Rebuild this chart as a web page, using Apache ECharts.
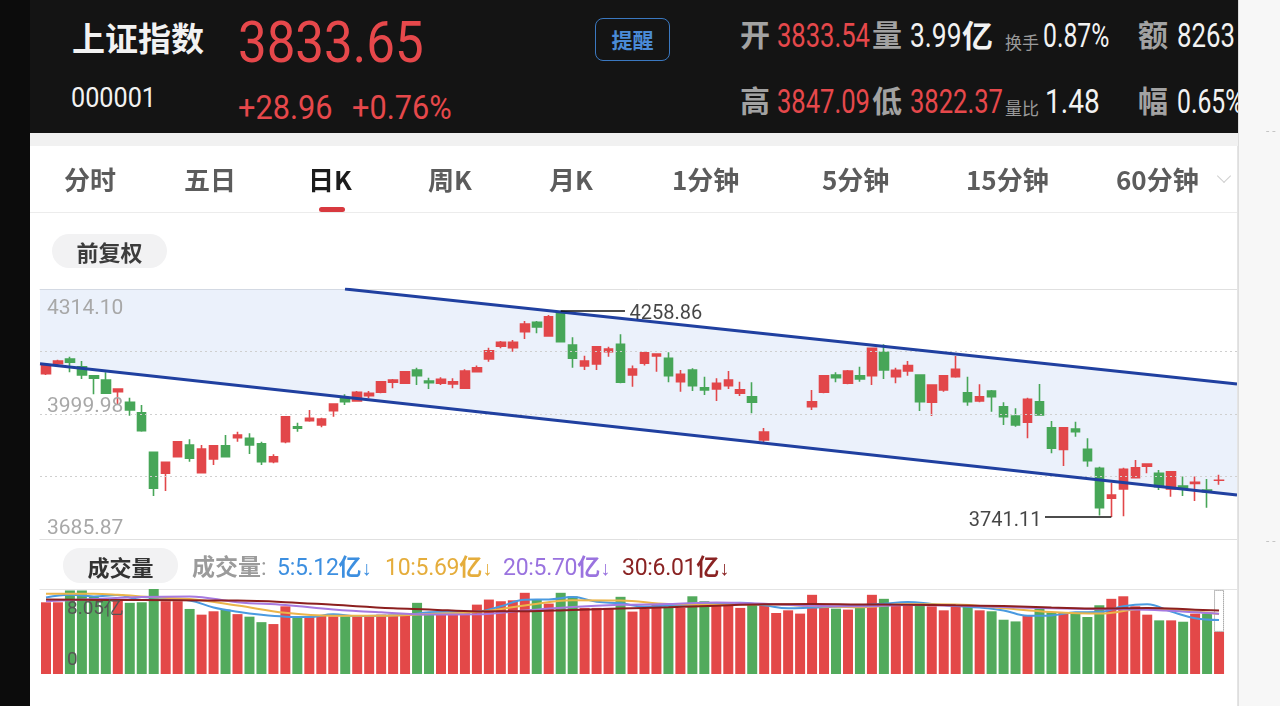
<!DOCTYPE html>
<html lang="zh-CN">
<head>
<meta charset="utf-8">
<title>上证指数 日K</title>
<script src="https://cdn.jsdelivr.net/npm/echarts@6.0.0/dist/echarts.min.js"></script>
<style>
  html, body { margin:0; padding:0; width:1280px; height:706px; overflow:hidden; background:#0c0c0c; }
  .a { position:absolute; white-space:nowrap; line-height:1; z-index:3; }
  .cjk { font-family:"Noto Sans CJK SC","Noto Sans",sans-serif; }
  .din { font-family:Roboto,"Noto Sans",sans-serif; transform-origin:0 50%; }
  #hdr { position:absolute; left:30px; top:0; width:1208px; height:133px; background:#141414; overflow:hidden; z-index:1; }
  #hdr .a { z-index:1; }
  #panel { position:absolute; left:30px; top:133px; width:1208px; height:573px; background:#fff; z-index:0; }
  #rstrip { position:absolute; left:1238px; top:0; width:42px; height:706px; background:#f7f7f7; border-left:1px solid #dedede; z-index:0; }
  .lbl { color:#a2a2a2; font-weight:700; font-size:30px; }
  .w { color:#f2f2f2; }
  .r { color:#e6484b; }
  .tab { font-size:26px; color:#5c5c5c; font-weight:600; top:166px; }
  .pill { position:absolute; background:#f2f2f3; border-radius:17px; display:flex; align-items:center; justify-content:center; z-index:3; }
  .leg { font-size:23px; top:554px; display:flex; align-items:baseline; }
  .leg .n { font-family:Roboto,"Noto Sans",sans-serif; font-size:23px; letter-spacing:-0.3px; }
  .leg .c { font-family:"Noto Sans CJK SC",sans-serif; font-size:23px; font-weight:700; }
  #chart { position:absolute; left:0; top:0; width:1280px; height:706px; z-index:2; }
</style>
</head>
<body>
<div id="panel"></div>
<div class="a" style="left:30px;top:133px;width:1208px;height:13px;background:#f1f1f1;"></div>
<div class="a" style="left:30px;top:212px;width:1208px;height:1px;background:#ececec;"></div>
<div class="a" style="left:1237px;top:146px;width:1px;height:560px;background:#e4e4e4;"></div>
<div id="rstrip"></div>
<div class="a" style="left:1266px;top:125px;font-size:12px;color:#c4c4c4;font-family:Roboto;">- -</div>
<div class="a" style="left:1266px;top:535px;font-size:12px;color:#c4c4c4;font-family:Roboto;">- -</div>

<div id="hdr">
  <div class="a cjk w" style="left:42px;top:21px;font-size:33px;font-weight:700;">上证指数</div>
  <div class="a din r" style="left:208px;top:12.5px;font-size:58px;transform:scaleX(0.88);">3833.65</div>
  <div class="a din w" style="left:41px;top:84px;font-size:28px;transform:scaleX(0.9);">000001</div>
  <div class="a din r" style="left:208px;top:90.5px;font-size:33px;transform:scaleX(0.93);">+28.96</div>
  <div class="a din r" style="left:322px;top:90.5px;font-size:33px;transform:scaleX(0.93);">+0.76%</div>
  <div class="a cjk" style="left:565px;top:18px;width:75px;height:43px;box-sizing:border-box;border:1.5px solid #3b78c0;border-radius:8px;display:flex;align-items:center;justify-content:center;font-size:21px;font-weight:700;color:#4a8ad6;">提醒</div>

  <div class="a cjk lbl" style="left:710px;top:18px;">开</div>
  <div class="a din r" style="left:747px;top:18.5px;font-size:33px;transform:scaleX(0.775);">3833.54</div>
  <div class="a cjk lbl" style="left:842px;top:18px;">量</div>
  <div class="a din w" style="left:880px;top:18.5px;font-size:33px;transform:scaleX(0.8);">3.99</div>
  <div class="a cjk w" style="left:932px;top:18px;font-size:31px;font-weight:700;">亿</div>
  <div class="a cjk" style="left:975px;top:33px;font-size:17px;color:#9a9a9a;">换手</div>
  <div class="a din w" style="left:1013px;top:18.5px;font-size:33px;transform:scaleX(0.75);">0.87%</div>
  <div class="a cjk lbl" style="left:1108px;top:18px;">额</div>
  <div class="a din w" style="left:1147px;top:18.5px;font-size:33px;transform:scaleX(0.78);">8263</div>

  <div class="a cjk lbl" style="left:710px;top:84px;">高</div>
  <div class="a din r" style="left:747px;top:84.5px;font-size:33px;transform:scaleX(0.775);">3847.09</div>
  <div class="a cjk lbl" style="left:842px;top:84px;">低</div>
  <div class="a din r" style="left:880px;top:84.5px;font-size:33px;transform:scaleX(0.775);">3822.37</div>
  <div class="a cjk" style="left:975px;top:99px;font-size:17px;color:#9a9a9a;">量比</div>
  <div class="a din w" style="left:1015px;top:84.5px;font-size:33px;transform:scaleX(0.85);">1.48</div>
  <div class="a cjk lbl" style="left:1108px;top:84px;">幅</div>
  <div class="a din w" style="left:1147px;top:84.5px;font-size:33px;transform:scaleX(0.75);">0.65%</div>
</div>

<div class="a cjk tab" style="left:64px;">分时</div>
<div class="a cjk tab" style="left:184px;">五日</div>
<div class="a cjk tab" style="left:308px;color:#1c1c1c;font-weight:700;">日K</div>
<div class="a cjk tab" style="left:428px;">周K</div>
<div class="a cjk tab" style="left:549px;">月K</div>
<div class="a cjk tab" style="left:672px;">1分钟</div>
<div class="a cjk tab" style="left:822px;">5分钟</div>
<div class="a cjk tab" style="left:966px;">15分钟</div>
<div class="a cjk tab" style="left:1116px;">60分钟</div>
<div class="a" style="left:1219px;top:171px;width:9px;height:9px;border-right:1.5px solid #cfcfcf;border-bottom:1.5px solid #cfcfcf;transform:rotate(45deg);"></div>
<div class="a" style="left:319px;top:207px;width:26px;height:5px;border-radius:3px;background:#d8393f;"></div>

<div class="pill cjk" style="left:52px;top:234px;width:115px;height:34px;font-size:22px;color:#3c3c3c;font-weight:600;">前复权</div>
<div class="pill cjk" style="left:63px;top:548px;width:115px;height:35px;font-size:22px;color:#333;font-weight:700;">成交量</div>

<div class="a cjk leg" style="left:192px;color:#9b9b9b;"><span class="c" style="font-weight:600;">成交量</span><span class="n">:</span></div>
<div class="a leg" id="leg5" style="left:277px;color:#3d8fe0;"></div>
<div class="a leg" id="leg10" style="left:385px;color:#e5ad3c;"></div>
<div class="a leg" id="leg20" style="left:503px;color:#9a73df;"></div>
<div class="a leg" id="leg30" style="left:622px;color:#8a2323;"></div>

<div id="chart"></div>

<script>
// ---------------- data ----------------
const slotCount = 100;              // horizontal day slots shown by the app (99 days + 1 blank)
const priceMin = 3685.87;
const priceMax = 4314.10;
const priceLabels = ['3685.87', '3999.98', '4314.10'];
const volMax = 8.05;
const volLabels = ['0', '8.05亿'];

// daily K: [open, close, low, high]; null = day hidden in the screenshot
const kline = [
 [4101.3,4123.1,4098.0,4125.6],[4126.4,4133.2,4118.8,4136.4],[4138.2,4129.9,4104.8,4144.0],[4118.8,4098.0,4087.9,4133.2],[4096.2,4089.7,4049.5,4097.0],
 [4085.4,4052.0,4051.5,4104.8],[4056.0,4062.8,4024.4,4064.6],[4029.4,4010.0,3995.7,4040.9],[4003.2,3958.0,3955.5,4022.6],[3903.7,3813.3,3793.9,3905.2],
 [3851.0,3878.6,3806.5,3879.5],[3892.7,3930.4,3890.8,3932.1],[3922.1,3888.7,3880.1,3936.4],[3852.5,3912.0,3852.0,3922.1],[3886.9,3920.3,3871.8,3922.1],
 [3920.3,3892.7,3891.2,3947.2],[3940.4,3947.2,3930.4,3955.5],[3938.9,3922.1,3899.5,3951.5],[3925.3,3880.1,3871.8,3930.4],[3880.1,3892.7,3876.1,3898.7],
 [3930.4,3993.2,3926.3,3995.1],[3968.1,3964.0,3955.5,3978.1],[3983.1,3989.2,3980.6,4010.0],[3972.3,3987.4,3966.6,3990.7],[4008.3,4025.1,3993.2,4025.8],
 [4039.4,4030.9,4022.6,4049.5],[4032.6,4054.5,4030.9,4057.8],[4046.0,4052.0,4039.4,4057.8],[4054.5,4081.1,4052.0,4082.9],[4079.6,4085.4,4064.6,4087.9],
 [4077.1,4106.3,4075.4,4108.0],[4110.6,4096.2,4072.9,4116.3],[4082.9,4078.6,4062.8,4091.2],[4077.1,4087.2,4072.9,4092.2],[4075.4,4081.1,4064.6,4089.7],
 [4064.6,4108.0,4062.8,4112.3],[4106.3,4116.3,4104.8,4121.6],[4138.2,4159.1,4131.4,4166.6],[4170.3,4180.4,4165.3,4183.4],[4166.6,4180.4,4156.5,4185.9],
 [4206.8,4226.1,4188.4,4233.7],[4230.4,4218.6,4202.8,4233.7],[4196.0,4244.4,4194.2,4248.8],[4257.1,4181.5,4180.0,4258.86],[4173.4,4140.0,4116.3,4192.7],
 [4120.6,4133.2,4110.6,4146.5],[4125.6,4169.1,4110.6,4170.8],[4156.5,4163.3,4144.0,4169.1],[4175.1,4079.6,4077.1,4200.3],[4098.0,4113.1,4068.6,4121.6],
 [4127.4,4154.0,4121.6,4156.5],[4145.6,4150.7,4106.3,4152.5],[4140.0,4096.2,4079.6,4155.0],[4081.1,4099.7,4056.0,4110.6],[4110.6,4071.1,4057.8,4114.8],
 [4066.1,4060.3,4047.7,4093.7],[4062.8,4077.1,4032.6,4089.7],[4071.1,4085.4,4062.8,4108.0],[4052.0,4061.0,4045.2,4081.1],[4043.4,4029.4,4001.7,4079.6],
 [3934.6,3954.7,3929.6,3964.8],null,null,null,[4018.3,4030.9,4010.0,4060.3],
 [4054.5,4096.2,4052.0,4098.0],[4098.0,4091.2,4079.6,4104.8],[4077.1,4108.0,4074.6,4110.6],[4096.2,4087.9,4081.1,4118.8],[4096.2,4165.1,4072.9,4166.6],
 [4155.0,4110.6,4087.9,4175.1],[4093.7,4109.8,4077.1,4116.3],[4108.0,4121.6,4096.2,4133.2],[4098.0,4030.9,4007.6,4099.7],[4029.4,4072.9,3995.1,4074.6],
 [4060.3,4095.7,4056.0,4098.0],[4093.7,4112.3,4091.2,4145.7],[4053.5,4030.9,4020.8,4093.7],[4032.6,4043.4,4029.4,4074.6],[4057.8,4043.4,4005.8,4060.3],
 [4018.3,3993.2,3972.3,4029.4],[3995.1,3972.3,3968.1,4014.3],[3979.1,4036.9,3938.9,4040.9],[4030.9,3997.7,3995.7,4075.4],[3965.5,3913.8,3901.2,3982.4],
 [3911.2,3965.5,3869.3,3966.0],[3962.3,3955.5,3942.9,3980.6],[3911.2,3882.6,3867.6,3938.9],[3863.5,3764.5,3745.0,3867.6],[3788.1,3796.5,3741.11,3827.4],
 [3811.5,3861.0,3743.0,3865.0],[3839.9,3865.0,3838.4,3884.4],[3868.6,3874.5,3851.0,3876.1],[3851.0,3817.3,3809.0,3859.3],[3811.5,3855.0,3792.1,3856.8],
 [3819.0,3814.8,3794.0,3842.7],[3825.6,3828.3,3781.3,3842.7],[3809.0,3804.69,3764.5,3836.6],[3833.54,3833.65,3822.37,3847.09]
];

// volume, 亿
const volumes = [
 6.79,6.79,7.91,7.91,7.34,7.19,7.05,6.74,6.79,8.05,
 6.89,6.89,6.16,5.62,5.94,6.10,5.67,5.43,4.91,4.73,
 6.41,5.46,5.46,5.53,5.46,5.46,5.53,5.53,5.62,5.62,
 5.62,6.74,5.72,5.72,5.72,5.84,6.57,7.05,6.89,6.98,
 7.69,7.05,6.67,7.69,7.36,6.26,6.26,6.26,7.31,5.91,
 6.19,6.57,6.41,6.26,7.36,6.89,6.48,6.74,6.26,6.57,
 6.48,5.78,6.03,5.72,7.50,6.41,6.19,6.10,6.41,7.50,
 7.12,6.48,6.57,6.57,6.41,6.03,6.57,6.41,6.03,5.94,
 5.14,4.98,5.53,6.26,5.84,5.84,5.72,5.40,6.51,7.12,
 7.36,6.41,5.62,5.08,5.08,4.95,5.72,5.72,3.99
];
// u = up day (red), d = down day (green)
const dayUp = 'uudddduddd' + 'uuduududdu' + 'uduuuduuuu' + 'udduuuuuuu' + 'ududduuudu' +
              'uududduuud' + 'uuuuuududu' + 'duuduuudud' + 'dduddudddu' + 'uuudududu';
const projectedVolume = 7.96;   // dotted box on today's bar

// volume moving averages: [dayIndex, value]
const ma5Pts = [[0,7.24],[2,7.5],[4,7.35],[6,7.48],[8,7.02],[10,7.10],[12,6.96],[14,6.30],[16,5.90],[18,5.61],[20,5.43],[22,5.39],[24,5.66],[26,5.49],[28,5.52],[30,5.58],[32,5.86],[34,5.90],[36,5.91],[38,6.41],[40,7.04],[42,7.06],[44,7.29],[46,6.85],[48,6.69],[50,6.39],[52,6.48],[54,6.56],[56,6.68],[58,6.75],[60,6.51],[62,6.22],[64,6.30],[66,6.37],[68,6.52],[70,6.66],[72,6.82],[74,6.63],[76,6.43],[78,6.29],[80,6.02],[82,5.52],[84,5.55],[86,5.84],[88,5.86],[90,6.42],[92,6.60],[94,5.91],[96,5.29],[98,5.12]];
const ma10Pts = [[0,7.6],[4,7.6],[6,7.5],[9,7.26],[12,7.10],[16,6.49],[20,5.79],[24,5.52],[28,5.52],[32,5.68],[36,5.87],[40,6.49],[44,6.98],[48,6.95],[52,6.62],[56,6.56],[60,6.60],[64,6.45],[68,6.32],[72,6.60],[76,6.58],[80,6.22],[84,5.87],[88,5.72],[92,6.21],[96,5.93],[98,5.69]];
const ma20Pts = [[0,6.9],[4,7.1],[8,7.3],[12,7.35],[16,6.8],[20,6.53],[24,6.12],[28,5.84],[32,5.63],[36,5.65],[40,6.01],[44,6.35],[48,6.55],[52,6.62],[56,6.78],[60,6.65],[64,6.46],[68,6.41],[72,6.54],[76,6.47],[80,6.35],[84,6.22],[88,6.14],[92,6.08],[96,5.85],[98,5.70]];
const ma30Pts = [[0,7.05],[8,7.0],[16,6.95],[20,6.8],[24,6.55],[29,6.23],[32,6.12],[36,5.93],[40,5.94],[44,6.07],[48,6.21],[52,6.31],[56,6.47],[60,6.60],[64,6.63],[68,6.59],[72,6.57],[76,6.50],[80,6.43],[84,6.30],[88,6.20],[92,6.26],[96,6.09],[98,6.01]];

// hand-drawn channel lines: [slot position, price]
const upperTrend = [[24.98, 4314.10], [99.5, 4075.4]];
const lowerTrend = [[-0.5, 4126.1], [99.5, 3796.4]];

// ---------------- styles ----------------
const RED = '#e2474a', GREEN = '#47a658';
const VRED = '#e34848', VGREEN = '#52aa5c';
const maColors = ['#4a9ae0', '#ebb54a', '#a679e0', '#8c1f1f'];
const leaderLenMax = 5.37, leaderLenMin = -5.54;

// ---------------- build ----------------
const slots = Array.from({length: slotCount}, (_, i) => String(i + 1));
const klineData = kline.map(r => r ? r : ['-', '-', '-', '-']);
let maxI = -1, maxV = -Infinity, minI = -1, minV = Infinity;
kline.forEach((r, i) => {
  if (!r) return;
  if (r[3] > maxV) { maxV = r[3]; maxI = i; }
  if (r[2] < minV) { minV = r[2]; minI = i; }
});
const last = volumes.length - 1;
const volData = volumes.map((v, i) => ({ value: v, itemStyle: { color: dayUp[i] === 'u' ? VRED : VGREEN } }));
const projData = volumes.map((v, i) => i === last ? +(projectedVolume - v).toFixed(2) : '-');
const bandPoly = [lowerTrend[0], [lowerTrend[0][0], priceMax], upperTrend[0], upperTrend[1], lowerTrend[1]];
const q = (priceMax - priceMin) / 4;

const lastOf = a => a[a.length - 1][1].toFixed(2);
function legend(id, period, pts) {
  document.getElementById(id).innerHTML =
    '<span class="n">' + period + ':' + lastOf(pts) + '</span><span class="c">亿</span><span class="n" style="font-size:20px;">↓</span>';
}
legend('leg5', 5, ma5Pts); legend('leg10', 10, ma10Pts); legend('leg20', 20, ma20Pts); legend('leg30', 30, ma30Pts);

const labelFont = { fontFamily: 'Roboto', fontSize: 21, color: '#a8a8a8' };
const noLine = { color: 'rgba(0,0,0,0)', width: 0 };
const chart = echarts.init(document.getElementById('chart'), null, { renderer: 'canvas' });
const hiddenAxis = { axisTick: { show: false }, axisLabel: { show: false }, splitLine: { show: false } };
chart.setOption({
  animation: false,
  grid: [
    { left: 40, top: 289, width: 1197, height: 250 },
    { left: 40, top: 589, width: 1197, height: 85 }
  ],
  xAxis: [
    Object.assign({ type: 'category', gridIndex: 0, data: slots, position: 'bottom',
      axisLine: { show: true, onZero: false, lineStyle: { color: '#e0e0e0', width: 1 } } }, hiddenAxis),
    Object.assign({ type: 'value', gridIndex: 0, min: -0.5, max: slotCount - 0.5, position: 'top',
      axisLine: { show: true, onZero: false, lineStyle: { color: '#e0e0e0', width: 1 } } }, hiddenAxis),
    Object.assign({ type: 'category', gridIndex: 1, data: slots, position: 'top',
      axisLine: { show: true, onZero: false, lineStyle: { color: '#e4e4e4', width: 1 } } }, hiddenAxis)
  ],
  yAxis: [
    Object.assign({ type: 'value', gridIndex: 0, min: priceMin, max: priceMax, axisLine: { show: false } }, hiddenAxis),
    { type: 'value', gridIndex: 1, min: 0, max: volMax, interval: volMax, z: 10,
      axisLine: { show: false }, axisTick: { show: false }, splitLine: { show: false },
      axisLabel: { inside: true, margin: 27, color: '#555', fontFamily: 'Roboto', fontSize: 19,
        formatter: (v, i) => i === 0 ? '{b|' + volLabels[0] + '}' : '{t|' + volLabels[1] + '}',
        rich: {
          t: { padding: [41, 0, 0, 0], color: '#555', fontFamily: 'Roboto', fontSize: 19 },
          b: { padding: [0, 0, 28, 0], color: '#555', fontFamily: 'Roboto', fontSize: 19 }
        } } }
  ],
  series: [
    { name: 'priceGrid', type: 'line', xAxisIndex: 1, yAxisIndex: 0, z: 1, silent: true,
      data: [[-1, priceMin]], symbol: 'none', lineStyle: { opacity: 0 },
      markLine: { silent: true, symbol: ['none', 'none'], animation: false,
        lineStyle: { type: [2, 3], color: '#cfcfcf', width: 1 },
        label: labelFont,
        data: [
          { yAxis: priceMax, lineStyle: noLine, label: Object.assign({ show: true, position: 'insideStartBottom', formatter: priceLabels[2], distance: [7, 9] }, labelFont) },
          { yAxis: priceMin + 3 * q, label: { show: false } },
          { yAxis: priceMin + 2 * q, label: Object.assign({ show: true, position: 'insideStartTop', formatter: priceLabels[1], distance: [7, -3] }, labelFont) },
          { yAxis: priceMin + q, label: { show: false } },
          { yAxis: priceMin, lineStyle: noLine, label: Object.assign({ show: true, position: 'insideStartTop', formatter: priceLabels[0], distance: [7, 0] }, labelFont) }
        ] } },
    { name: 'channel', type: 'custom', xAxisIndex: 1, yAxisIndex: 0, z: 1, silent: true,
      data: [[0, priceMin]],
      renderItem: (params, api) => ({ type: 'polygon',
        shape: { points: bandPoly.map(p => api.coord(p)) },
        style: { fill: 'rgba(170,198,240,0.24)' } }) },
    { name: 'K', type: 'candlestick', xAxisIndex: 0, yAxisIndex: 0, z: 4, data: klineData, barWidth: 9,
      itemStyle: { color: RED, color0: GREEN, borderColor: RED, borderColor0: GREEN, borderWidth: 1.6 } },
    { name: 'upper', type: 'line', xAxisIndex: 1, yAxisIndex: 0, z: 5, silent: true, data: upperTrend,
      symbol: 'none', lineStyle: { color: '#2040a0', width: 3 } },
    { name: 'lower', type: 'line', xAxisIndex: 1, yAxisIndex: 0, z: 5, silent: true, data: lowerTrend,
      symbol: 'none', lineStyle: { color: '#2040a0', width: 3 } },
    { name: 'maxLeader', type: 'line', xAxisIndex: 1, yAxisIndex: 0, z: 6, silent: true,
      data: [[maxI, maxV], [maxI + leaderLenMax, maxV]], symbol: 'none', lineStyle: { color: '#111', width: 1.5 } },
    { name: 'maxLabel', type: 'scatter', xAxisIndex: 1, yAxisIndex: 0, z: 6, silent: true, symbolSize: 1,
      itemStyle: { color: 'rgba(0,0,0,0)' }, data: [[maxI + leaderLenMax, maxV]],
      label: { show: true, position: 'right', distance: 4, offset: [0, 3], formatter: maxV.toFixed(2), color: '#161616', fontSize: 20, fontFamily: 'Roboto' } },
    { name: 'minLeader', type: 'line', xAxisIndex: 1, yAxisIndex: 0, z: 6, silent: true,
      data: [[minI, minV], [minI + leaderLenMin, minV]], symbol: 'none', lineStyle: { color: '#111', width: 1.5 } },
    { name: 'minLabel', type: 'scatter', xAxisIndex: 1, yAxisIndex: 0, z: 6, silent: true, symbolSize: 1,
      itemStyle: { color: 'rgba(0,0,0,0)' }, data: [[minI + leaderLenMin, minV]],
      label: { show: true, position: 'left', distance: 3, offset: [0, 4], formatter: minV.toFixed(2), color: '#161616', fontSize: 20, fontFamily: 'Roboto' } },
    { name: '成交量', type: 'bar', xAxisIndex: 2, yAxisIndex: 1, z: 2, stack: 'vol', barWidth: 10, data: volData },
    { name: 'projected', type: 'bar', xAxisIndex: 2, yAxisIndex: 1, z: 2, stack: 'vol', barWidth: 10, data: projData,
      itemStyle: { color: 'rgba(0,0,0,0)', borderColor: '#7a7a7a', borderType: 'dotted', borderWidth: 1 } },
    { name: 'MA5', type: 'line', xAxisIndex: 2, yAxisIndex: 1, z: 3, data: ma5Pts, symbol: 'none', smooth: 0.4, lineStyle: { color: maColors[0], width: 2 } },
    { name: 'MA10', type: 'line', xAxisIndex: 2, yAxisIndex: 1, z: 3, data: ma10Pts, symbol: 'none', smooth: 0.4, lineStyle: { color: maColors[1], width: 2 } },
    { name: 'MA20', type: 'line', xAxisIndex: 2, yAxisIndex: 1, z: 3, data: ma20Pts, symbol: 'none', smooth: 0.4, lineStyle: { color: maColors[2], width: 2 } },
    { name: 'MA30', type: 'line', xAxisIndex: 2, yAxisIndex: 1, z: 3, data: ma30Pts, symbol: 'none', smooth: 0.4, lineStyle: { color: maColors[3], width: 2 } }
  ]
});
</script>
</body>
</html>
